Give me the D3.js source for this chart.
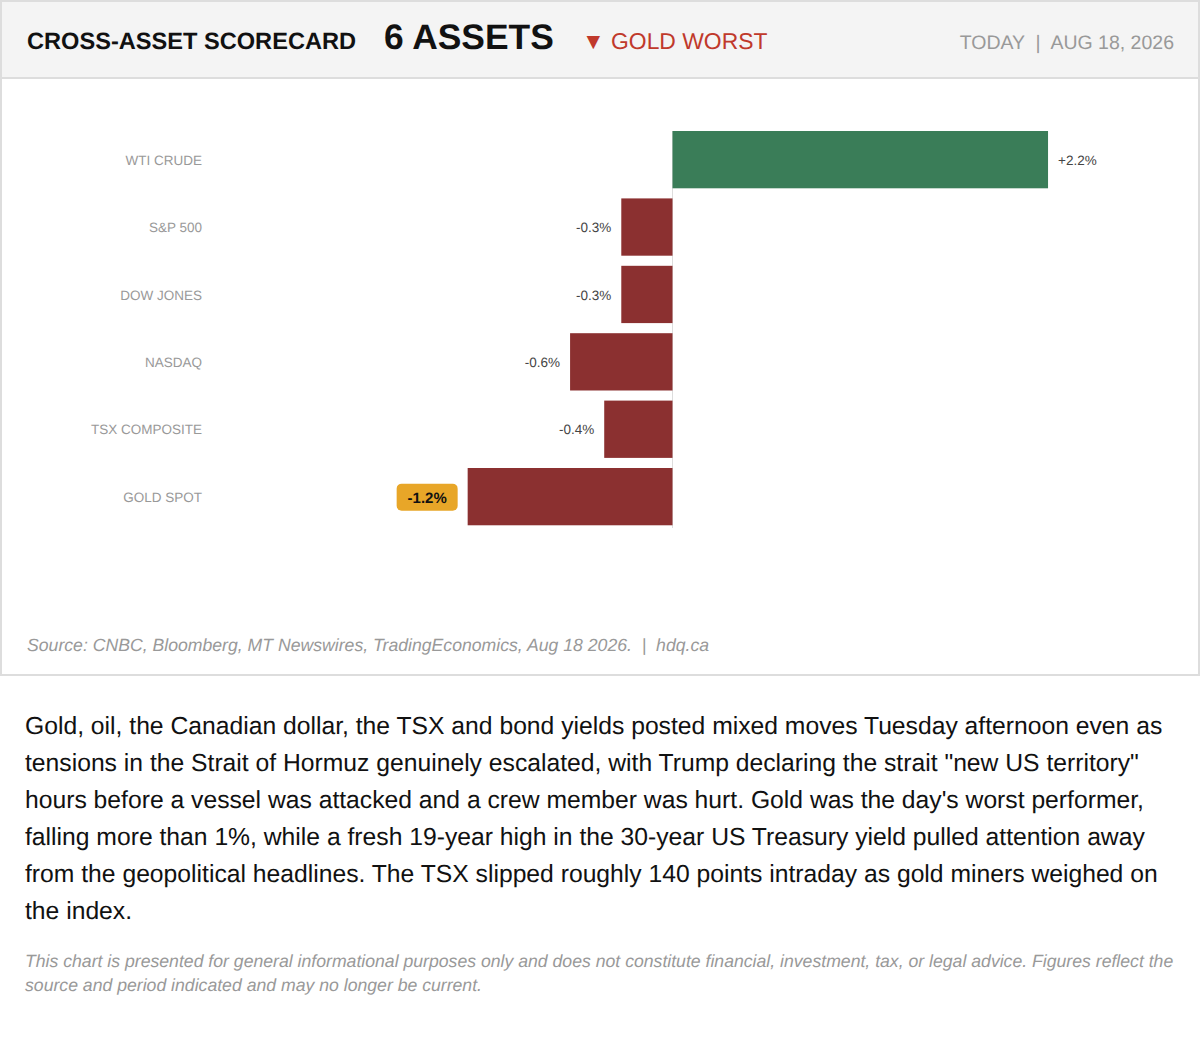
<!DOCTYPE html>
<html>
<head>
<meta charset="utf-8">
<script src="https://cdn.jsdelivr.net/npm/d3@7"></script>
<style>
  body { margin: 0; background: #fff; font-family: "Liberation Sans", Arial, sans-serif; color: #111; text-rendering: geometricPrecision; }
  .card { width: 1200px; height: 676px; box-sizing: border-box; border: 2px solid #ddd; position: relative; }
  .head { position: absolute; left: 0; top: 0; width: 1196px; height: 75px; background: #f4f4f4; border-bottom: 2px solid #ddd; }
  .head span { position: absolute; white-space: nowrap; }
  .title { left: 25px; top: 27px; font-size: 23.6px; font-weight: bold; color: #111; }
  .count { left: 382px; top: 15px; font-size: 35.4px; font-weight: bold; color: #111; }
  .worst { left: 580px; top: 26px; font-size: 22.9px; color: #c0392b; }
  .date { right: 24px; top: 30px; font-size: 19.5px; color: #999; }
  svg { position: absolute; left: -2px; top: 78px; }
  .source { position: absolute; left: 25px; top: 633px; font-size: 17.65px; font-style: italic; color: #999; white-space: nowrap; }
  .text { position: absolute; left: 25px; top: 708px; width: 1150px; font-size: 24.7px; line-height: 37px; color: #111; }
  .note { position: absolute; left: 25px; top: 949px; width: 1150px; font-size: 17.65px; line-height: 24px; font-style: italic; color: #999; }
</style>
</head>
<body>
<div class="card">
  <div class="head">
    <span class="title">CROSS-ASSET SCORECARD</span>
    <span class="count">6 ASSETS</span>
    <span class="worst">▼ GOLD WORST</span>
    <span class="date">TODAY &nbsp;|&nbsp; AUG 18, 2026</span>
  </div>
  <div class="source">Source: CNBC, Bloomberg, MT Newswires, TradingEconomics, Aug 18 2026. &nbsp;|&nbsp; hdq.ca</div>
</div>
<div class="text">Gold, oil, the Canadian dollar, the TSX and bond yields posted mixed moves Tuesday afternoon even as tensions in the Strait of Hormuz genuinely escalated, with Trump declaring the strait "new US territory" hours before a vessel was attacked and a crew member was hurt. Gold was the day's worst performer, falling more than 1%, while a fresh 19-year high in the 30-year US Treasury yield pulled attention away from the geopolitical headlines. The TSX slipped roughly 140 points intraday as gold miners weighed on the index.</div>
<div class="note">This chart is presented for general informational purposes only and does not constitute financial, investment, tax, or legal advice. Figures reflect the source and period indicated and may no longer be current.</div>
<script>
const assets = ["WTI CRUDE", "S&P 500", "DOW JONES", "NASDAQ", "TSX COMPOSITE", "GOLD SPOT"];
const changes = [2.2, -0.3, -0.3, -0.6, -0.4, -1.2];
const worstAsset = "GOLD SPOT";
const rows = assets.map((a, i) => ({asset: a, change: changes[i]}));

const svg = d3.select(".card").append("svg")
    .attr("width", 1200)
    .attr("height", 550);

// svg origin is 80px below the page top
const x = d3.scaleLinear().domain([0, 1]).range([672.5, 843.2]);
const y = d3.scaleBand().domain(assets).range([40.9, 455.4]).padding(0.15);
const fmt = d => (d > 0 ? "+" : "") + d.toFixed(1) + "%";

//Category labels on the left
const yAxis = svg.append("g")
    .attr("transform", "translate(212,0.8)")
    .call(d3.axisLeft(y).tickSize(0).tickPadding(10));
yAxis.select(".domain").remove();
yAxis.selectAll("text")
    .attr("font-family", "'Liberation Sans', Arial, sans-serif")
    .attr("font-size", 13.5)
    .attr("fill", "#999");

//Zero line, under the bars
svg.append("line")
    .attr("x1", x(0)).attr("x2", x(0))
    .attr("y1", 51).attr("y2", 448)
    .attr("stroke", "#ddd")
    .attr("stroke-width", 1);

svg.selectAll("rect.bar")
    .data(rows)
    .join("rect")
    .attr("class", "bar")
    .attr("x", d => Math.min(x(0), x(d.change)))
    .attr("y", d => y(d.asset))
    .attr("width", d => Math.abs(x(d.change) - x(0)))
    .attr("height", y.bandwidth())
    .attr("fill", d => d.change > 0 ? "#3a7d58" : "#8b3030");

//Value labels, the worst one gets a badge
rows.forEach(d => {
    const cy = y(d.asset) + y.bandwidth() / 2;
    if (d.asset === worstAsset) {
        svg.append("rect")
            .attr("x", x(d.change) - 71)
            .attr("y", cy - 13)
            .attr("width", 61)
            .attr("height", 27)
            .attr("rx", 5)
            .attr("fill", "#e8a628");
        svg.append("text")
            .attr("x", x(d.change) - 40.5)
            .attr("y", cy + 1)
            .attr("dy", "0.35em")
            .attr("text-anchor", "middle")
            .attr("font-size", 15)
            .attr("font-weight", "bold")
            .attr("fill", "#111")
            .text(fmt(d.change));
    } else {
        svg.append("text")
            .attr("x", x(d.change) + (d.change > 0 ? 10 : -10))
            .attr("y", cy + 0.5)
            .attr("dy", "0.35em")
            .attr("text-anchor", d.change > 0 ? "start" : "end")
            .attr("font-size", 13.5)
            .attr("fill", "#444")
            .text(fmt(d.change));
    }
});
</script>
</body>
</html>
